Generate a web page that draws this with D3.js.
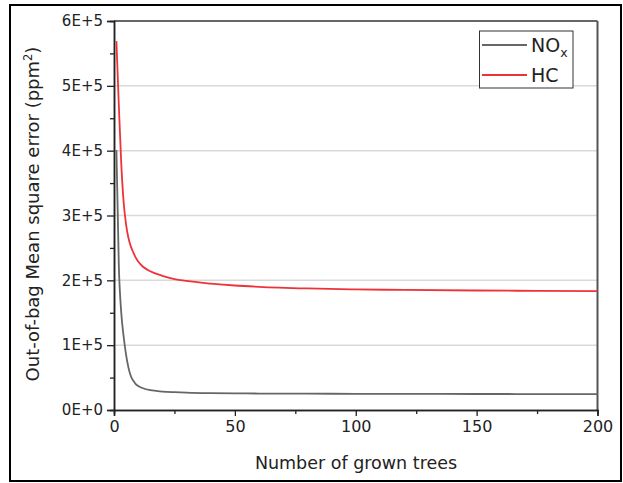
<!DOCTYPE html>
<html>
<head>
<meta charset="utf-8">
<script src="https://d3js.org/d3.v7.min.js"></script>
<style>
  body { margin: 0; background: #fff; }
  text { font-family: "DejaVu Sans", sans-serif; fill: #222; }
</style>
</head>
<body>
<svg id="chart" width="623" height="483"></svg>
<script>
// number of grown trees
var trees = [1, 2, 3, 4, 5, 6, 7, 8, 9, 10, 12, 15, 20, 25, 30, 40, 50, 60, 80, 100, 120, 150, 175, 200];
// out-of-bag MSE
var nox = [401000, 222000, 150000, 113000, 85000, 65000, 52000, 45000, 40000, 37000, 33500, 30500, 28500, 27500, 26800, 26000, 25600, 25400, 25200, 25000, 24900, 24700, 24600, 24500];
var hc  = [569000, 470000, 380000, 320000, 286000, 265000, 252000, 243000, 235000, 229000, 221000, 214000, 207000, 202000, 199000, 195000, 192000, 190000, 187500, 186000, 185200, 184300, 183800, 183300];
var seriesNames = ["NOx", "HC"];
var yTicks = [0, 100000, 200000, 300000, 400000, 500000, 600000];
var xTicks = [0, 50, 100, 150, 200];

var svg = d3.select("#chart");
var x = d3.scaleLinear().domain([0, 200]).range([114, 597.5]);
var y = d3.scaleLinear().domain([0, 600000]).range([410, 21]);

// outer frame
svg.append("rect").attr("x", 10).attr("y", 5).attr("width", 611).attr("height", 476)
  .attr("fill", "none").attr("stroke", "#000").attr("stroke-width", 2);

// grid
svg.selectAll(".grid").data(yTicks.slice(1, 6)).enter().append("line")
  .attr("x1", x(0)).attr("x2", x(200)).attr("y1", d => y(d)).attr("y2", d => y(d))
  .attr("stroke", "#d9d9d9").attr("stroke-width", 1.5);

// top / right frame lines
svg.append("line").attr("x1", x(0)).attr("x2", x(200)).attr("y1", y(600000)).attr("y2", y(600000))
  .attr("stroke", "#333").attr("stroke-width", 1.5);
svg.append("line").attr("x1", x(200)).attr("x2", x(200)).attr("y1", y(600000)).attr("y2", y(0))
  .attr("stroke", "#555").attr("stroke-width", 2);

// minor ticks
var xAxisMinor = d3.axisBottom(x).tickValues([25, 75, 125, 175]).tickSize(4).tickFormat("");
var yAxisMinor = d3.axisLeft(y).tickValues([50000, 150000, 250000, 350000, 450000, 550000]).tickSize(4).tickFormat("");
svg.append("g").attr("transform", "translate(0," + y(0) + ")").call(xAxisMinor);
svg.append("g").attr("transform", "translate(" + x(0) + ",0)").call(yAxisMinor);

var xAxis = d3.axisBottom(x).tickValues(xTicks).tickSize(6).tickPadding(5);
var yAxis = d3.axisLeft(y).tickValues(yTicks).tickSize(7).tickPadding(4)
  .tickFormat(d => (d / 100000) + "E+" + (d === 0 ? 0 : 5));

var gx = svg.append("g").attr("transform", "translate(0," + y(0) + ")").call(xAxis);
var gy = svg.append("g").attr("transform", "translate(" + x(0) + ",0)").call(yAxis);
svg.selectAll(".domain").attr("stroke", "#222").attr("stroke-width", 1.5);
svg.selectAll(".tick line").attr("stroke", "#222").attr("stroke-width", 1.3);
gx.selectAll("text").attr("font-size", 16).attr("font-family", "DejaVu Sans").attr("fill", "#222");
gy.selectAll("text").attr("font-size", 15).attr("font-family", "DejaVu Sans").attr("fill", "#222");

// lines
var line = d3.line().x((d, i) => x(trees[i])).y(d => y(d)).curve(d3.curveMonotoneX);
svg.append("path").datum(nox).attr("d", line).attr("fill", "none")
  .attr("stroke", "#666").attr("stroke-width", 1.8);
svg.append("path").datum(hc).attr("d", line).attr("fill", "none")
  .attr("stroke", "#ee3338").attr("stroke-width", 1.8);

// axis titles
svg.append("text").attr("x", 356).attr("y", 469).attr("text-anchor", "middle")
  .attr("font-size", 17.5).text("Number of grown trees");
var yt = svg.append("text").attr("transform", "translate(39,214) rotate(-90)")
  .attr("text-anchor", "middle").attr("font-size", 18);
yt.append("tspan").text("Out-of-bag Mean square error (ppm");
yt.append("tspan").attr("dy", -7).attr("font-size", 11.5).text("2");
yt.append("tspan").attr("dy", 7).text(")");

// legend
var lg = svg.append("g");
lg.append("rect").attr("x", 479.5).attr("y", 31).attr("width", 93.5).attr("height", 57)
  .attr("fill", "#fff").attr("stroke", "#333").attr("stroke-width", 1);
var lcolors = ["#666", "#ee3338"];
seriesNames.forEach(function (s, i) {
  var ly = 45 + i * 30;
  lg.append("line").attr("x1", 482).attr("x2", 527).attr("y1", ly).attr("y2", ly)
    .attr("stroke", lcolors[i]).attr("stroke-width", 1.8);
  var t = lg.append("text").attr("x", 531).attr("y", ly + 7).attr("font-size", 19);
  if (s === "NOx") {
    t.append("tspan").text("NO");
    t.append("tspan").attr("dy", 5).attr("font-size", 12.5).text("x");
  } else {
    t.text(s);
  }
});
</script>
</body>
</html>
